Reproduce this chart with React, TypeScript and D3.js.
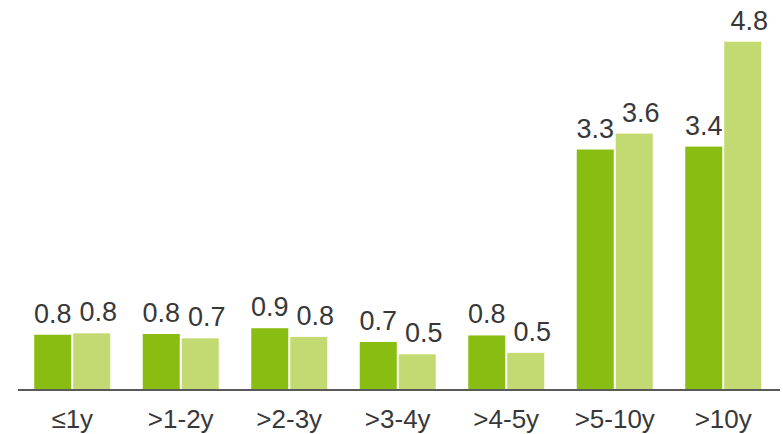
import React, { useEffect, useRef } from "react";
import * as d3 from "d3";

// categories and the two series (bar heights)
const categories = ["≤1y", ">1-2y", ">2-3y", ">3-4y", ">4-5y", ">5-10y", ">10y"];
const seriesA = [0.75, 0.76, 0.84, 0.65, 0.74, 3.31, 3.35];
const seriesB = [0.77, 0.7, 0.72, 0.48, 0.5, 3.53, 4.8];
// values as printed above the bars
const labelsA = ["0.8", "0.8", "0.9", "0.7", "0.8", "3.3", "3.4"];
const labelsB = ["0.8", "0.7", "0.8", "0.5", "0.5", "3.6", "4.8"];

const colors = ["#8abd12", "#c3da72"];

function App() {
    const svgRef = useRef<SVGSVGElement>(null);
    const width = 783,
          height = 434;

    useEffect(() => {
        const svg = d3.select(svgRef.current);
        svg.selectAll("*").remove();

        const baseline = 390;

        const x0 = d3.scaleBand()
            .domain(categories)
            .range([18, 777.5])
            .padding(0);

        const y = d3.scaleLinear()
            .domain([0, 4.8])
            .range([baseline - 1, 41.7]);

        const font = "'Liberation Sans', Arial, sans-serif";

        categories.forEach((c, i) => {
            const center = (x0(c) as number) + x0.bandwidth() / 2;
            const x1 = d3.scaleBand()
                .domain(["a", "b"])
                .range([center - 38, center + 38])
                .paddingInner(0.05);

            const vals = [seriesA[i], seriesB[i]];
            const labs = [labelsA[i], labelsB[i]];
            const keys = ["a", "b"];

            keys.forEach((k, j) => {
                const bx = x1(k) as number;
                svg.append("rect")
                    .attr("x", bx)
                    .attr("y", y(vals[j]))
                    .attr("width", x1.bandwidth())
                    .attr("height", y(0) - y(vals[j]))
                    .attr("fill", colors[j]);

                svg.append("text")
                    .attr("x", bx + x1.bandwidth() / 2 + (j === 1 ? 6.5 : 0))
                    .attr("y", y(vals[j]) - 12)
                    .attr("text-anchor", "middle")
                    .attr("font-family", font)
                    .attr("font-size", "27px")
                    .attr("fill", "#383838")
                    .text(labs[j]);
            });

            svg.append("text")
                .attr("x", center)
                .attr("y", 428)
                .attr("text-anchor", "middle")
                .attr("font-family", font)
                .attr("font-size", "26px")
                .attr("fill", "#383838")
                .text(c);
        });

        svg.append("line")
            .attr("x1", 18)
            .attr("x2", 780)
            .attr("y1", baseline)
            .attr("y2", baseline)
            .attr("stroke", "#595959")
            .attr("stroke-width", 2);
    }, []);

    return (
        <div style={{ position: "absolute", left: 0, top: 0, background: "#fff" }}>
            <svg ref={svgRef} width={width} height={height} style={{ display: "block" }}></svg>
        </div>
    );
}

export default App;
